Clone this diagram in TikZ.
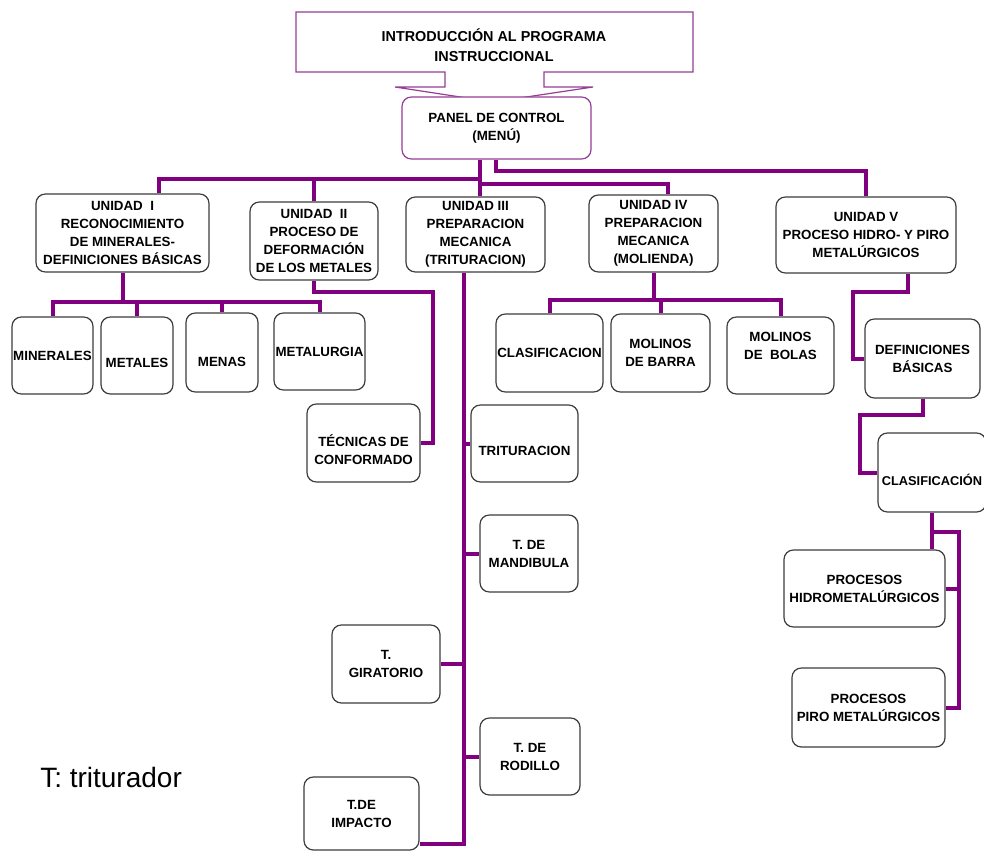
\documentclass[tikz,border=0pt]{standalone}
\usepackage{fontspec}
\setmainfont{Liberation Sans}
\definecolor{conncol}{RGB}{128,0,128}
\definecolor{callcol}{RGB}{150,60,150}
\definecolor{boxcol}{RGB}{60,60,60}
\tikzset{
  box/.style={draw=boxcol, line width=0.9pt, rounded corners=7pt, fill=white,
    inner sep=0pt, align=center, font=\fontsize{10}{13.5}\selectfont\bfseries},
  pbox/.style={box, draw=callcol},
  conn/.style={draw=conncol, line width=3pt},
}
\newcommand\mybox[7][box]{%
  \node[#1, minimum width={(#5-#3)*0.75pt}, minimum height={(#6-#4)*0.75pt}]
    (#2) at ({(#3+#5)/2},{(#4+#6)/2}) {#7};}
\newcommand\shiftt[2]{\raisebox{#1}[\height][\depth]{\begin{tabular}{@{}c@{}}#2\end{tabular}}}
\begin{document}
\begin{tikzpicture}[x=0.75pt,y=-0.75pt]
\useasboundingbox (0,0) rectangle (984,852);
% callout
\draw[callcol, line width=0.9pt, fill=white]
  (296,12) -- (693,12) -- (693,72) -- (544,72) -- (544,87) -- (593,87)
  -- (493,102) -- (395,87) -- (445,87) -- (445,72) -- (296,72) -- cycle;
\node[align=center, font=\fontsize{10.8}{15}\selectfont\bfseries] (intro) at (494,45)
  {INTRODUCCIÓN AL PROGRAMA\\INSTRUCCIONAL};
\mybox[pbox]{pan}{402}{97}{591}{159}{PANEL DE CONTROL\\(MENÚ)}
% units
\mybox{u1}{36}{194}{209}{272}{UNIDAD\ \ I\\RECONOCIMIENTO\\DE MINERALES-\\DEFINICIONES BÁSICAS}
\mybox{u2}{250}{202}{378}{280}{UNIDAD\ \ II\\PROCESO DE\\DEFORMACIÓN\\DE LOS METALES}
\mybox{u3}{406}{197}{545}{272}{UNIDAD III\\PREPARACION\\MECANICA\\(TRITURACION)}
\mybox{u4}{589}{195}{718}{272}{UNIDAD IV\\PREPARACION\\MECANICA\\(MOLIENDA)}
\mybox{u5}{776}{197}{956}{273}{UNIDAD V\\PROCESO HIDRO- Y PIRO\\METALÚRGICOS}
% unit I children
\mybox{min}{12}{317}{93}{394}{MINERALES}
\mybox{met}{101}{317}{173}{394}{\shiftt{-6pt}{METALES}}
\mybox{men}{186}{313}{258}{392}{\shiftt{-7.5pt}{MENAS}}
\mybox{mlg}{274}{313}{365}{390}{METALURGIA}
% unit II child
\mybox{tec}{307}{404}{420}{482}{\shiftt{-6.5pt}{TÉCNICAS DE\\CONFORMADO}}
% unit III children
\mybox{tri}{471}{405}{578}{482}{\shiftt{-6.5pt}{TRITURACION}}
\mybox{man}{480}{515}{578}{592}{T. DE\\MANDIBULA}
\mybox{gir}{332}{625}{440}{703}{T.\\GIRATORIO}
\mybox{rod}{480}{718}{580}{795}{T. DE\\RODILLO}
\mybox{imp}{304}{777}{419}{850}{T.DE\\IMPACTO}
% unit IV children
\mybox{cla}{496}{314}{603}{392}{CLASIFICACION}
\mybox{mba}{611}{314}{710}{392}{MOLINOS\\DE BARRA}
\mybox{mbo}{727}{317}{834}{394}{\shiftt{6.5pt}{MOLINOS\\DE\ \ BOLAS}}
% unit V chain
\mybox{def}{865}{319}{980}{398}{DEFINICIONES\\BÁSICAS}
\mybox{clf}{878}{433}{986}{512}{\fontsize{9.6}{13}\selectfont\shiftt{-7.5pt}{CLASIFICACIÓN}}
\mybox{hid}{784}{550}{945}{627}{PROCESOS\\HIDROMETALÚRGICOS}
\mybox{pir}{792}{668}{945}{747}{PROCESOS\\PIRO METALÚRGICOS}
% legend
\node[font=\fontsize{21}{24}\selectfont, anchor=west, inner sep=0pt] (legend) at (40,777) {T: triturador};
% helper coordinates
\coordinate (x159) at (159,0);
\coordinate (x480) at (480,0);
\coordinate (x496) at (496,0);
\coordinate (x668) at (668,0);
\coordinate (x908) at (908,0);
\coordinate (x464) at (464,0);
\coordinate (yA) at (0,179);
\coordinate (yB) at (0,171);
\coordinate (yC) at (0,184);
% panel connectors
\coordinate (pA) at (pan.south -| x480);
\coordinate (pB) at (pan.south -| x496);
\coordinate (jA) at (x480 |- yA);
\coordinate (jB) at (x496 |- yB);
\coordinate (jC) at (x480 |- yC);
\draw[conn] (pA) -- (u3.north -| x480);
\draw[conn] (u1.north -| x159) |- (jA);
\draw[conn] (u2.north) -- (u2.north |- jA);
\draw[conn] (pB) -- (jB) -| (u5.north);
\draw[conn] (jC) -| (u4.north -| x668);
% unit I bus
\coordinate (b1) at (123,302);
\draw[conn] (u1.south) -- (u1.south |- b1);
\draw[conn] (min.north) |- (b1) -| (mlg.north);
\draw[conn] (met.north) -- (met.north |- b1);
\draw[conn] (men.north) -- (men.north |- b1);
% unit II
\coordinate (k2) at (433,292);
\draw[conn] (u2.south) |- (k2) |- (tec.east);
% unit III trunk
\coordinate (tb) at (464,844);
\draw[conn] (u3.south -| x464) -- (tb) -- (tb -| imp.east);
\draw[conn] (tri.west) -- (tri.west -| x464);
\draw[conn] (man.west) -- (man.west -| x464);
\draw[conn] (gir.east) -- (gir.east -| x464);
\draw[conn] (rod.west) -- (rod.west -| x464);
% unit IV bus
\coordinate (b4) at (655,300);
\draw[conn] (u4.south) -- (u4.south |- b4);
\draw[conn] (cla.north) |- (b4) -| (mbo.north);
\draw[conn] (mba.north) -- (mba.north |- b4);
% unit V chain
\coordinate (k5) at (853,292);
\draw[conn] (u5.south -| x908) |- (k5) |- (def.west);
\coordinate (k6) at (860,415);
\draw[conn] (def.south) |- (k6) |- (clf.west);
\coordinate (k7) at (959,532);
\draw[conn] (clf.south) -- (clf.south |- hid.north);
\draw[conn] (clf.south |- k7) -- (k7) |- (pir.east);
\draw[conn] (hid.east) -- (hid.east -| k7);
\end{tikzpicture}
\end{document}
